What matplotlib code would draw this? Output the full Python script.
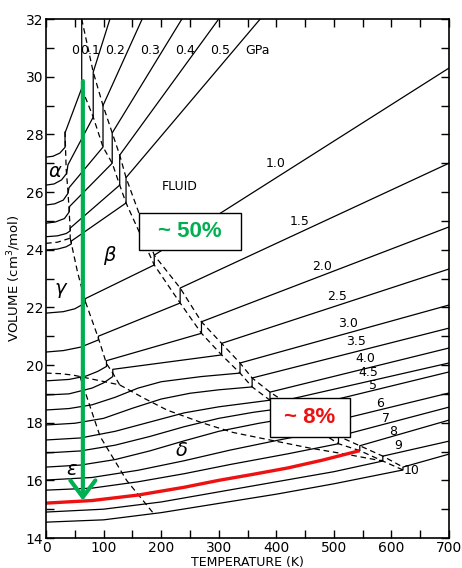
import numpy as np
import matplotlib.pyplot as plt
from matplotlib.ticker import MultipleLocator
from matplotlib.patches import Rectangle

plt.rcParams['font.family'] = ['DejaVu Sans']

pressures = ['0', '0.1', '0.2', '0.3', '0.4', '0.5', '1.0', '1.5', '2.0', '2.5',
             '3.0', '3.5', '4.0', '4.5', '5', '6', '7', '8', '9', '10']

# solid branch of each isobar up to melting: T (K), V (cm3/mol)
solid_T = [
    [0, 12, 24, 33, 33, 62],
    [0, 14, 27, 36, 38, 82],
    [0, 15, 30, 38, 40, 99],
    [0, 16, 32, 40, 41, 115],
    [0, 20, 35, 42, 42, 128],
    [0, 20, 35, 44, 44, 139],
    [0, 30, 50, 68, 68, 188],
    [0, 30, 60, 91, 91, 233],
    [0, 40, 70, 90, 105, 105, 270],
    [0, 40, 80, 100, 116, 116, 305],
    [0, 40, 80, 120, 160, 200, 270, 337],
    [0, 50, 100, 150, 200, 250, 300, 358],
    [0, 60, 120, 180, 240, 300, 389],
    [0, 60, 120, 180, 240, 300, 360, 412],
    [0, 60, 120, 180, 240, 300, 370, 435],
    [0, 80, 160, 240, 320, 400, 476],
    [0, 80, 160, 240, 320, 420, 508],
    [0, 80, 160, 240, 300, 360, 420, 480, 545],
    [0, 100, 200, 300, 400, 500, 585],
    [0, 100, 200, 300, 400, 500, 620],
]
solid_V = [
    [27.21, 27.24, 27.35, 27.55, 28.05, 29.60],
    [26.24, 26.28, 26.42, 26.65, 26.94, 28.60],
    [25.55, 25.59, 25.72, 25.95, 26.15, 27.56],
    [24.92, 24.96, 25.08, 25.30, 25.50, 27.00],
    [24.45, 24.48, 24.56, 24.65, 24.75, 26.24],
    [23.99, 24.02, 24.10, 24.20, 24.30, 25.62],
    [21.80, 21.85, 21.95, 22.15, 22.30, 23.47],
    [20.45, 20.50, 20.62, 20.87, 21.00, 22.15],
    [19.45, 19.50, 19.62, 19.78, 19.95, 20.15, 21.10],
    [18.96, 19.00, 19.20, 19.38, 19.60, 19.85, 20.35],
    [18.44, 18.49, 18.62, 18.88, 19.20, 19.42, 19.60, 19.72],
    [17.92, 17.98, 18.15, 18.50, 18.82, 19.02, 19.14, 19.24],
    [17.40, 17.47, 17.70, 18.02, 18.34, 18.55, 18.78],
    [16.95, 17.02, 17.22, 17.52, 17.86, 18.15, 18.36, 18.50],
    [16.46, 16.53, 16.72, 17.02, 17.37, 17.70, 17.98, 18.20],
    [16.01, 16.10, 16.35, 16.68, 17.05, 17.38, 17.68],
    [15.66, 15.73, 15.95, 16.23, 16.55, 16.92, 17.27],
    [15.21, 15.30, 15.49, 15.76, 16.00, 16.21, 16.43, 16.70, 17.03],
    [14.90, 15.00, 15.25, 15.60, 15.95, 16.30, 16.67],
    [14.55, 14.63, 14.88, 15.20, 15.52, 15.88, 16.36],
]

# fluid branch: start at melting, end at frame
fluid_T = [[62, 62], [82, 111], [99, 167], [115, 236], [128, 300], [139, 372],
           [188, 700], [233, 700], [270, 700], [305, 700], [337, 700], [358, 700],
           [389, 700], [412, 700], [435, 700], [476, 700], [508, 700], [545, 700],
           [585, 700], [620, 700]]
fluid_V = [[29.60, 32.0], [30.16, 32.0], [29.00, 32.0], [28.05, 32.0], [27.28, 32.0],
           [26.50, 32.0], [23.81, 30.30], [22.67, 27.00], [21.50, 24.79], [20.75, 23.33],
           [20.07, 22.08], [19.55, 21.28], [19.06, 20.59], [18.76, 20.07], [18.47, 19.76],
           [17.94, 19.03], [17.53, 18.54], [17.20, 18.09], [16.84, 17.36], [16.46, 16.91]]

# solid-solid phase boundaries
alpha_beta_T = [33, 35, 38, 40, 42, 42]
alpha_beta_V = [28.10, 26.80, 26.05, 25.40, 24.70, 24.40]
alpha_gamma_T = [0, 20, 42]
alpha_gamma_V = [24.22, 24.26, 24.40]
gamma_beta_T = [42, 55, 68, 91, 105, 116, 128]
gamma_beta_V = [24.40, 23.20, 22.22, 20.93, 20.05, 19.72, 19.31]
gamma_eps_T = [0, 25, 47, 128]
gamma_eps_V = [19.72, 19.70, 19.65, 19.31]
eps_delta_T = [59, 94, 140, 186]
eps_delta_V = [19.60, 17.52, 16.00, 14.87]
beta_delta_T = [128, 170, 210, 272, 325, 406, 458, 523, 585]
beta_delta_V = [19.31, 18.85, 18.44, 17.99, 17.66, 17.33, 17.12, 16.90, 16.67]

# isobar labels (GPa)
top_labels = ['0', '0.1', '0.2', '0.3', '0.4', '0.5', 'GPa']
top_label_T = [50, 77, 120, 180, 241, 302, 368]
side_labels = ['1.0', '1.5', '2.0', '2.5', '3.0', '3.5', '4.0', '4.5', '5', '6', '7', '8', '9', '10']
side_label_T = [398, 441, 479, 505, 525, 539, 554, 560, 568, 580, 591, 603, 612, 635]
side_label_V = [27.0, 24.97, 23.43, 22.37, 21.44, 20.81, 20.23, 19.73, 19.30, 18.67, 18.15, 17.69, 17.22, 16.33]

phases = [r'$\alpha$', r'$\beta$', r'$\gamma$', r'$\delta$', r'$\epsilon$']
phase_T = [16, 111, 27, 236, 45]
phase_V = [26.7, 23.8, 22.6, 17.05, 16.36]

highlight = '8'
arrow_T = 64
arrow_V = [29.85, 15.3]

fig = plt.figure(figsize=(4.62, 5.68), dpi=100)
ax = fig.add_axes([0.0996, 0.0528, 0.8723, 0.9137])

dash = (0, (4.5, 3))
for i, p in enumerate(pressures):
    ax.plot(solid_T[i] + fluid_T[i], solid_V[i] + fluid_V[i], color='black', lw=0.9)

# melting band: solid side and fluid side
ax.plot([t[-1] for t in solid_T], [v[-1] for v in solid_V], color='black', lw=0.9, ls=dash)
ax.plot([fluid_T[0][1]] + [t[0] for t in fluid_T[1:]],
        [fluid_V[0][1]] + [v[0] for v in fluid_V[1:]], color='black', lw=0.9, ls=dash)

for bt, bv in [(alpha_beta_T, alpha_beta_V), (alpha_gamma_T, alpha_gamma_V),
               (gamma_beta_T, gamma_beta_V), (gamma_eps_T, gamma_eps_V),
               (eps_delta_T, eps_delta_V), (beta_delta_T, beta_delta_V)]:
    ax.plot(bt, bv, color='black', lw=0.9, ls=dash)

k = pressures.index(highlight)
ax.plot(solid_T[k], solid_V[k], color='#ee1111', lw=2.4, solid_capstyle='butt')

ax.annotate('', xy=(arrow_T, arrow_V[1]), xytext=(arrow_T, arrow_V[0]),
            arrowprops=dict(arrowstyle='->,head_length=0.6,head_width=0.45',
                            color='#00b050', lw=3.0, mutation_scale=20,
                            shrinkA=0, shrinkB=0))

for s, t in zip(top_labels, top_label_T):
    ax.text(t, 30.92, s, ha='center', va='center', fontsize=9)
for s, t, v in zip(side_labels, side_label_T, side_label_V):
    ax.text(t, v, s, ha='center', va='center', fontsize=9)
ax.text(232, 26.2, 'FLUID', ha='center', va='center', fontsize=9)
for s, t, v in zip(phases, phase_T, phase_V):
    ax.text(t, v, s, ha='center', va='center', fontsize=14)

# callout boxes
ax.add_patch(Rectangle((161, 24.0), 177, 1.27, facecolor='white', edgecolor='black', lw=1.0, zorder=5))
ax.text(250, 24.62, '~ 50%', ha='center', va='center', fontsize=16, fontweight='bold',
        color='#00b050', family='Liberation Sans', zorder=6)
ax.add_patch(Rectangle((389, 17.5), 139, 1.35, facecolor='white', edgecolor='black', lw=1.0, zorder=5))
ax.text(458, 18.17, '~ 8%', ha='center', va='center', fontsize=16, fontweight='bold',
        color='#ee1111', family='Liberation Sans', zorder=6)

ax.set_xlim(0, 700)
ax.set_ylim(14, 32)
ax.xaxis.set_major_locator(MultipleLocator(100))
ax.xaxis.set_minor_locator(MultipleLocator(50))
ax.yaxis.set_major_locator(MultipleLocator(2))
ax.yaxis.set_minor_locator(MultipleLocator(1))
ax.tick_params(which='both', direction='in', top=True, right=True, length=6, width=1,
               labelsize=10, pad=2)
for sp in ax.spines.values():
    sp.set_linewidth(1.2)

ax.set_xlabel('TEMPERATURE (K)', fontsize=9, labelpad=1)
ax.set_ylabel('VOLUME (cm$^3$/mol)', fontsize=9.5, labelpad=2)

fig.savefig('out.png', dpi=100)
